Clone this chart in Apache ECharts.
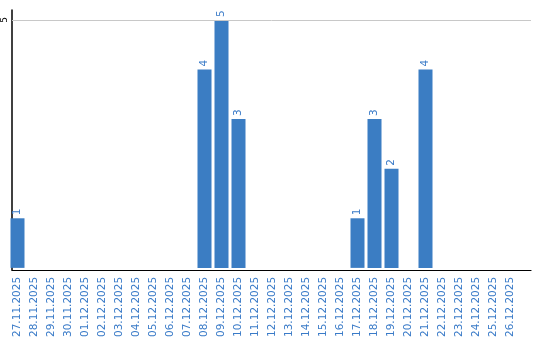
<!DOCTYPE html>
<html><head><meta charset="utf-8">
<script src="https://cdn.jsdelivr.net/npm/echarts@6/dist/echarts.min.js"></script>
<style>html,body{margin:0;padding:0;background:#fff}#c{width:540px;height:340px}</style>
</head><body><div id="c"></div>
<script>
var categories = ['27.11.2025','28.11.2025','29.11.2025','30.11.2025','01.12.2025','02.12.2025','03.12.2025','04.12.2025','05.12.2025','06.12.2025','07.12.2025','08.12.2025','09.12.2025','10.12.2025','11.12.2025','12.12.2025','13.12.2025','14.12.2025','15.12.2025','16.12.2025','17.12.2025','18.12.2025','19.12.2025','20.12.2025','21.12.2025','22.12.2025','23.12.2025','24.12.2025','25.12.2025','26.12.2025'];
var values = [1,0,0,0,0,0,0,0,0,0,0,4,5,3,0,0,0,0,0,0,1,3,2,0,4,0,0,0,0,0];
var yTicks = [5];

var chart = echarts.init(document.getElementById('c'));
chart.setOption({
  animation: false,
  grid: [
    {left: 9, right: 21, top: 10, bottom: 70},
    {left: 10, right: 9, top: 10, bottom: 70}
  ],
  xAxis: [{
    type: 'category', data: categories, gridIndex: 0,
    axisLine: {show: false},
    axisTick: {show: false},
    axisLabel: {interval: 0, rotate: 90, color: '#3a7bc8', fontSize: 10.5, fontFamily: 'DejaVu Sans', margin: 9}
  }, {
    type: 'value', gridIndex: 1, min: 0, max: 1,
    axisLine: {show: true, onZero: false, lineStyle: {color: '#000', width: 1.2}},
    axisTick: {show: false}, axisLabel: {show: false}, splitLine: {show: false}
  }],
  yAxis: [{
    type: 'value', gridIndex: 0, min: 0, max: 5.2, interval: 5,
    axisLine: {show: false}, axisTick: {show: false}, axisLabel: {show: false}, splitLine: {show: false}
  }, {
    type: 'value', gridIndex: 1, min: 0, max: 5.2, interval: 5,
    axisLine: {show: true, onZero: false, lineStyle: {color: '#000', width: 1.5}},
    axisTick: {show: false},
    splitLine: {show: false},
    axisLabel: {rotate: 90, color: '#000', fontSize: 9, fontFamily: 'DejaVu Sans', margin: 3,
      formatter: function (v) { return yTicks.indexOf(v) >= 0 ? String(v) : ''; }}
  }],
  series: [{
    type: 'bar', data: values, barWidth: 14, xAxisIndex: 0, yAxisIndex: 0,
    itemStyle: {color: '#3b7dc3'},
    label: {show: true, position: 'top', rotate: 90, align: 'left', verticalAlign: 'middle', distance: 3,
      color: '#3a7bc8', fontSize: 10.5, fontFamily: 'DejaVu Sans',
      formatter: function (p) { return p.value ? String(p.value) : ''; }}
  }, {
    type: 'line', data: [], xAxisIndex: 1, yAxisIndex: 1, silent: true,
    markLine: {
      silent: true, symbol: 'none', label: {show: false},
      lineStyle: {color: '#c8c8c8', type: 'solid', width: 1},
      data: yTicks.map(function (t) { return {yAxis: t}; })
    }
  }]
});
</script></body></html>
